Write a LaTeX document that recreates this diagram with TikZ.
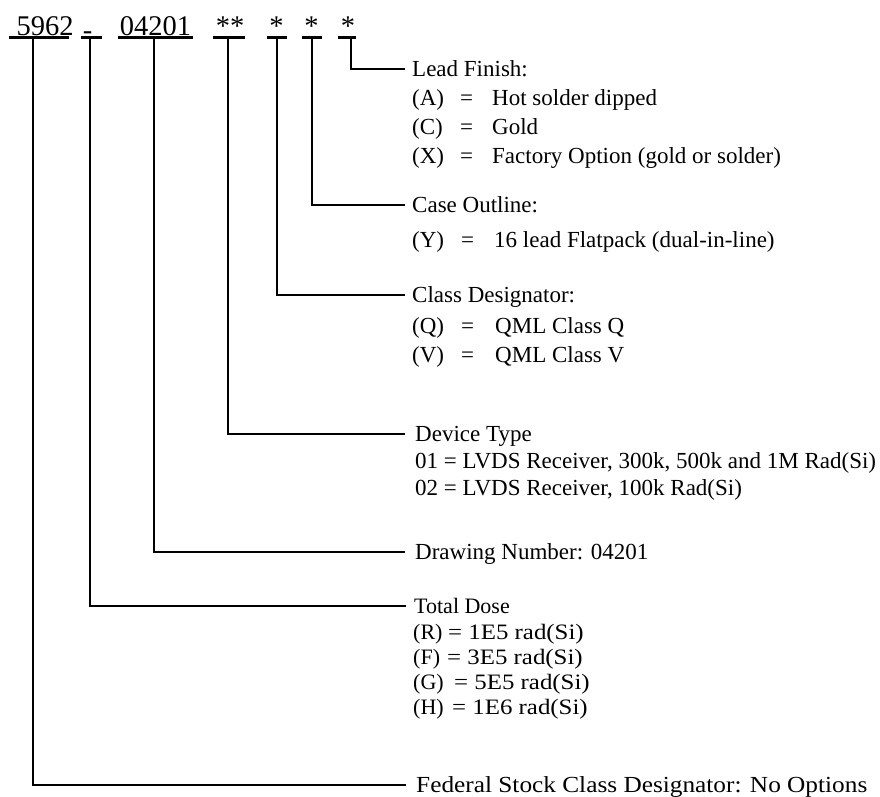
\documentclass[tikz,border=0pt]{standalone}
\usepackage{graphicx}
\usepackage{fontspec}
\setmainfont{Liberation Serif}
\begin{document}
\begin{tikzpicture}[x=1pt,y=-1pt,
  leadline/.style={line width=2.7pt, line cap=rect},
  uline/.style={line width=2.4pt},
  toptext/.style={font=\fontsize{28.5}{30}\selectfont, anchor=base, inner sep=0pt},
  ttl/.style={font=\fontsize{23}{27}\selectfont, anchor=west, inner sep=0pt, text height=15pt, text depth=0pt},
  row/.style={font=\fontsize{23}{27}\selectfont, anchor=west, inner sep=0pt, text height=15pt, text depth=0pt},
  rowsm/.style={font=\fontsize{22}{25}\selectfont, anchor=west, inner sep=0pt, text height=14.5pt, text depth=0pt}
]
\useasboundingbox (0,0) rectangle (880,796);
\fill[white] (0,0) rectangle (880,796);

% top part number
\node[toptext] (p1) at (45,35) {5962};
\node[toptext] (p2) at (87.5,39) {-};
\node[toptext] (p3) at (155.5,35) {04201};
\node[toptext] (p4) at (230,35) {**};
\node[toptext] (p5) at (276.5,35) {*};
\node[toptext] (p6) at (311.5,35) {*};
\node[toptext] (p7) at (348,35) {*};

\draw[uline] (9,37.5) -- (69,37.5);
\draw[uline] (81,37.5) -- (102,37.5);
\draw[uline] (118,37.5) -- (193,37.5);
\draw[uline] (213,37.5) -- (245,37.5);
\draw[uline] (267,37.5) -- (287,37.5);
\draw[uline] (302,37.5) -- (322,37.5);
\draw[uline] (338,37.5) -- (356,37.5);

\coordinate (c1) at (33,37.5);
\coordinate (c2) at (90,37.5);
\coordinate (c3) at (154,37.5);
\coordinate (c4) at (228,37.5);
\coordinate (c5) at (277,37.5);
\coordinate (c6) at (312,37.5);
\coordinate (c7) at (351,37.5);

% Lead finish
\node[ttl] (lf) at (412,69) {Lead Finish:};
\node[row] (lfa) at (412,98) {(A)};
\node[row] (lfae) at (460,98) {=};
\node[row] (lfav) at (492,98) {Hot solder dipped};
\node[row] (lfc) at (412,127) {(C)};
\node[row] (lfce) at (460,127) {=};
\node[row] (lfcv) at (492,127) {Gold};
\node[row] (lfx) at (412,156) {(X)};
\node[row] (lfxe) at (460,156) {=};
\node[row] (lfxv) at (492,156) {Factory Option (gold or solder)};

% Case outline
\node[ttl] (co) at (412,205) {Case Outline:};
\node[row] (coy) at (412,240) {(Y)};
\node[row] (coye) at (461,240) {=};
\node[row] (coyv) at (494,240) {16 lead Flatpack (dual-in-line)};

% Class designator
\node[ttl] (cd) at (412,295) {Class Designator:};
\node[row] (cdq) at (412,326) {(Q)};
\node[row] (cdqe) at (461,326) {=};
\node[row] (cdqv) at (495,326) {QML Class Q};
\node[row] (cdv) at (412,355) {(V)};
\node[row] (cdve) at (461,355) {=};
\node[row] (cdvv) at (495,355) {QML Class V};

% Device type
\node[ttl] (dt) at (415,434) {Device Type};
\node[row] (dt1) at (415,461) {01 = LVDS Receiver, 300k, 500k and 1M Rad(Si)};
\node[row] (dt2) at (415,488) {02 = LVDS Receiver, 100k Rad(Si)};

% Drawing number
\node[ttl] (dn) at (415,552) {Drawing Number: 04201};

% Total dose
\node[rowsm] (td) at (414,606) {Total Dose};
\node[rowsm] (tdr) at (413,632) {(R)};
\node[rowsm] (tdrv) at (448,632) {\scalebox{1.13}[1]{= 1E5 rad(Si)}};
\node[rowsm] (tdf) at (413,657) {(F)};
\node[rowsm] (tdfv) at (447,657) {\scalebox{1.13}[1]{= 3E5 rad(Si)}};
\node[rowsm] (tdg) at (413,682) {(G)};
\node[rowsm] (tdgv) at (454,682) {\scalebox{1.13}[1]{= 5E5 rad(Si)}};
\node[rowsm] (tdh) at (413,707) {(H)};
\node[rowsm] (tdhv) at (452,707) {\scalebox{1.13}[1]{= 1E6 rad(Si)}};

% Federal
\node[ttl] (fs) at (416,785) {\scalebox{1.1}[1]{Federal Stock Class Designator: No Options}};

% connectors
\draw[leadline] (c7) |- ([xshift=-8pt]lf.west);
\draw[leadline] (c6) |- ([xshift=-8pt]co.west);
\draw[leadline] (c5) |- ([xshift=-8pt]cd.west);
\draw[leadline] (c4) |- ([xshift=-11pt]dt.west);
\draw[leadline] (c3) |- ([xshift=-11pt]dn.west);
\draw[leadline] (c2) |- ([xshift=-9pt]td.west);
\draw[leadline] (c1) |- ([xshift=-11pt]fs.west);
\end{tikzpicture}
\end{document}
